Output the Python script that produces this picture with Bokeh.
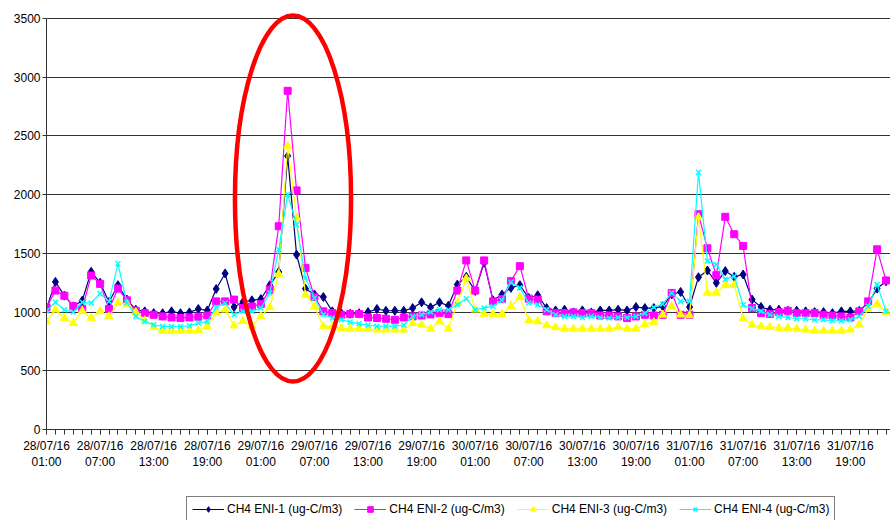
from bokeh.plotting import figure
from bokeh.models import Range1d, FixedTicker, LinearAxis, Legend, LegendItem
from bokeh.layouts import column
from bokeh.embed import file_html
from bokeh.resources import INLINE

# hourly samples from 28/07/16 01:00
hours = list(range(95))

eni1 = [1030, 1257, 1140, 1049, 1097, 1343, 1250, 1086, 1229, 1106,
        1020, 1006, 991, 990, 1006, 990, 997, 1026, 1014, 1197,
        1329, 1043, 1086, 1100, 1111, 1228, 1341, 2329, 1489, 1199,
        1150, 1128, 1006, 991, 985, 990, 1000, 1026, 1011, 1011,
        1011, 1034, 1083, 1040, 1083, 1054, 1234, 1300, 1180, 1420,
        1100, 1149, 1206, 1229, 1120, 1143, 1034, 1014, 1020, 997,
        1014, 997, 1014, 1014, 1020, 1014, 1043, 1034, 1034, 1049,
        1150, 1171, 1043, 1297, 1354, 1249, 1349, 1300, 1320, 1106,
        1043, 1020, 1020, 1011, 1011, 1006, 1000, 1000, 991, 1006,
        1006, 1011, 1077, 1200, 1263]

eni2 = [1040, 1183, 1140, 1050, 1026, 1311, 1240, 1026, 1200, 1100,
        1011, 991, 977, 963, 954, 949, 954, 960, 971, 1091,
        1091, 1106, 1034, 1048, 1068, 1191, 1731, 2884, 2036, 1376,
        1130, 1006, 991, 977, 983, 983, 954, 949, 943, 934,
        954, 963, 971, 980, 991, 983, 1183, 1440, 1183, 1440,
        1091, 1110, 1263, 1391, 1114, 1106, 1006, 991, 991, 997,
        991, 991, 971, 971, 963, 949, 963, 977, 971, 977,
        1163, 977, 977, 1834, 1543, 1314, 1811, 1663, 1563, 1034,
        991, 983, 1000, 1011, 991, 991, 991, 977, 971, 963,
        954, 1006, 1091, 1534, 1269]

eni3 = [920, 1020, 949, 906, 1010, 949, 1006, 963, 1077, 1070,
        1000, 930, 870, 840, 840, 840, 840, 845, 877, 997,
        1020, 885, 923, 883, 963, 1040, 1324, 2414, 1803, 1148,
        1048, 878, 878, 863, 857, 857, 857, 849, 849, 849,
        849, 906, 891, 857, 920, 857, 1077, 1286, 1020, 983,
        983, 983, 1050, 1126, 929, 920, 886, 869, 857, 857,
        857, 857, 857, 857, 869, 857, 857, 897, 914, 977,
        1049, 977, 971, 1806, 1163, 1163, 1229, 1229, 945, 891,
        877, 871, 863, 863, 857, 849, 840, 840, 840, 840,
        849, 891, 1026, 1069, 1000]

eni4 = [1010, 1083, 1020, 1000, 1083, 1077, 1157, 1091, 1411, 1080,
        963, 920, 891, 877, 877, 877, 883, 906, 920, 1040,
        1077, 977, 1006, 1006, 1034, 1162, 1532, 2002, 1746, 1290,
        1120, 977, 949, 935, 915, 900, 890, 880, 880, 880,
        890, 963, 977, 1000, 1020, 1020, 1063, 1114, 1020, 1034,
        1050, 1100, 1254, 1206, 1077, 1063, 1020, 977, 963, 963,
        954, 963, 954, 949, 954, 954, 963, 990, 1040, 1069,
        1163, 1091, 1091, 2191, 1434, 1406, 1277, 1306, 1060, 1030,
        1006, 977, 963, 954, 943, 943, 934, 934, 926, 926,
        934, 963, 1049, 1234, 1006]

series_names = ["CH4 ENI-1 (ug-C/m3)", "CH4 ENI-2 (ug-C/m3)",
                "CH4 ENI-3 (ug-C/m3)", "CH4 ENI-4 (ug-C/m3)"]
series_colors = ["#000080", "#FF00FF", "#FFFF00", "#00FFFF"]
series_markers = ["diamond", "square", "triangle", "x"]
series_sizes = [9, 7, 8, 7]

tick_hours = [0, 6, 12, 18, 24, 30, 36, 42, 48, 54, 60, 66, 72, 78, 84, 90]
tick_dates = ["28/07/16"] * 4 + ["29/07/16"] * 4 + ["30/07/16"] * 4 + ["31/07/16"] * 4
tick_times = ["01:00", "07:00", "13:00", "19:00"] * 4
y_ticks = [0, 500, 1000, 1500, 2000, 2500, 3000, 3500]

# highlight ellipse around the 29/07 peak (data units)
hl_x, hl_y, hl_w, hl_h = 27.6, 1967, 13.0, 3117

FONT = "Liberation Sans"
AX = "#333333"

p = figure(width=890, height=490, x_range=Range1d(0, 94.5), y_range=Range1d(0, 3585),
           output_backend="svg", toolbar_location=None,
           min_border_left=46, min_border_right=0, min_border_top=8, min_border_bottom=61)
p.outline_line_color = None
p.background_fill_color = "white"

# x axis: dates
xa = p.xaxis[0]
xa.ticker = FixedTicker(ticks=tick_hours, minor_ticks=hours)
xa.major_label_overrides = {h: d for h, d in zip(tick_hours, tick_dates)}
xa.major_tick_in = 0
xa.major_tick_out = 5
xa.minor_tick_in = 0
xa.minor_tick_out = 5
xa.axis_line_color = AX
xa.major_tick_line_color = AX
xa.minor_tick_line_color = AX
xa.major_label_text_font = FONT
xa.major_label_text_font_size = "12px"
xa.major_label_text_color = "black"
xa.major_label_standoff = 4

# second row: times
xa2 = LinearAxis(ticker=FixedTicker(ticks=tick_hours, minor_ticks=[]),
                 major_label_overrides={h: t for h, t in zip(tick_hours, tick_times)})
xa2.axis_line_color = None
xa2.major_tick_line_color = None
xa2.minor_tick_line_color = None
xa2.major_tick_out = 0
xa2.major_tick_in = 0
xa2.minor_tick_out = 0
xa2.minor_tick_in = 0
xa2.major_label_text_font = FONT
xa2.major_label_text_font_size = "12px"
xa2.major_label_text_color = "black"
xa2.major_label_standoff = -1
p.add_layout(xa2, "below")

ya = p.yaxis[0]
ya.ticker = FixedTicker(ticks=y_ticks, minor_ticks=[])
ya.bounds = (0, 3500)
ya.major_tick_in = 0
ya.major_tick_out = 4
ya.axis_line_color = AX
ya.major_tick_line_color = AX
ya.major_label_text_font = FONT
ya.major_label_text_font_size = "12px"
ya.major_label_text_color = "black"
ya.major_label_standoff = 2

p.xgrid.visible = False
p.ygrid.ticker = FixedTicker(ticks=y_ticks)
p.ygrid.grid_line_color = AX
p.ygrid.grid_line_width = 1

# legend strip below the chart (its range keeps the copied series out of view)
pl = figure(width=890, height=30, x_range=Range1d(200, 201), y_range=Range1d(0, 1),
            output_backend="svg", toolbar_location=None,
            x_axis_location=None, y_axis_location=None, min_border=0)
pl.outline_line_color = None
pl.grid.visible = False

items = []
for name, vals, col, mk, sz in zip(series_names, [eni1, eni2, eni3, eni4],
                                   series_colors, series_markers, series_sizes):
    p.line(hours, vals, line_color=col, line_width=1.2)
    lr = pl.line(hours, vals, line_color=col, line_width=1.2)
    if mk == "x":
        p.scatter(hours, vals, marker=mk, size=sz, line_color=col, line_width=1.5)
        sr = pl.scatter(hours, vals, marker=mk, size=sz, line_color=col, line_width=1.5)
    else:
        p.scatter(hours, vals, marker=mk, size=sz, fill_color=col, line_color=col)
        sr = pl.scatter(hours, vals, marker=mk, size=sz, fill_color=col, line_color=col)
    items.append(LegendItem(label=name, renderers=[lr, sr]))

p.ellipse(x=[hl_x], y=[hl_y], width=hl_w, height=hl_h, fill_color=None,
          line_color="#FF0000", line_width=4.5)

legend = Legend(items=items, orientation="horizontal", location=(140, -2),
                border_line_color="black", border_line_width=1,
                label_text_font=FONT, label_text_font_size="12px", label_text_color="black",
                glyph_width=32, glyph_height=14, label_height=14, label_standoff=3, spacing=12,
                padding=5, margin=0, background_fill_color="white")
pl.add_layout(legend, "center")

page = column(p, pl, spacing=0)
open("out.html", "w").write(file_html(page, INLINE))
